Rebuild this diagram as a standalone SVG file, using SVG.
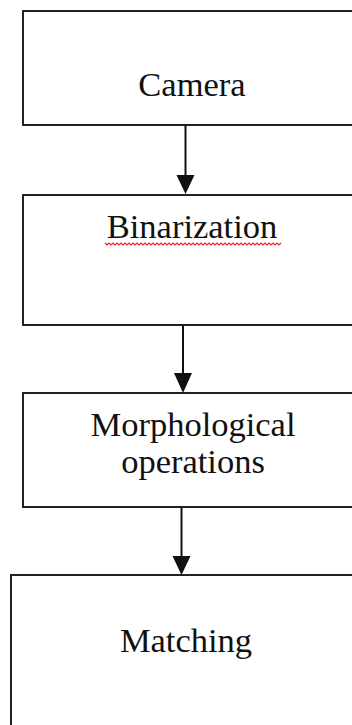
<svg xmlns="http://www.w3.org/2000/svg" width="352" height="725" viewBox="0 0 352 725">
<defs>
<style>
.box{fill:#fff;stroke:#222;stroke-width:2}
.lbl{font-family:"Liberation Serif","Times New Roman",serif;font-size:34.5px;fill:#111;text-anchor:middle}
.conn{stroke:#111;stroke-width:2;fill:none}
.head{fill:#111}
</style>
</defs>
<rect width="352" height="725" fill="#fff"/>
<g id="camera">
<rect class="box" x="23" y="11" width="340" height="114"/>
<text class="lbl" x="192" y="96">Camera</text>
</g>
<g id="binarization">
<rect class="box" x="23" y="195" width="340" height="130"/>
<text class="lbl" x="192" y="238">Binarization</text>
<polyline fill="none" stroke="#e22" stroke-width="1.2" points="105,243 107,245 109,243 111,245 113,243 115,245 117,243 119,245 121,243 123,245 125,243 127,245 129,243 131,245 133,243 135,245 137,243 139,245 141,243 143,245 145,243 147,245 149,243 151,245 153,243 155,245 157,243 159,245 161,243 163,245 165,243 167,245 169,243 171,245 173,243 175,245 177,243 179,245 181,243 183,245 185,243 187,245 189,243 191,245 193,243 195,245 197,243 199,245 201,243 203,245 205,243 207,245 209,243 211,245 213,243 215,245 217,243 219,245 221,243 223,245 225,243 227,245 229,243 231,245 233,243 235,245 237,243 239,245 241,243 243,245 245,243 247,245 249,243 251,245 253,243 255,245 257,243 259,245 261,243 263,245 265,243 267,245 269,243 271,245 273,243 275,245 277,243 279,245 281,243"/>
</g>
<g id="morphological">
<rect class="box" x="23" y="393" width="340" height="114"/>
<text class="lbl" x="193" y="436">Morphological</text>
<text class="lbl" x="193" y="473">operations</text>
</g>
<g id="matching">
<rect class="box" x="11" y="575" width="360" height="170"/>
<text class="lbl" x="186" y="652">Matching</text>
</g>
<g id="connectors">
<line class="conn" x1="185.5" y1="125" x2="185.5" y2="177"/>
<polygon class="head" points="176.5,175 194.5,175 185.5,194"/>
<line class="conn" x1="183" y1="325" x2="183" y2="375"/>
<polygon class="head" points="174,373 192,373 183,393"/>
<line class="conn" x1="181.5" y1="507" x2="181.5" y2="558"/>
<polygon class="head" points="172.5,556 190.5,556 181.5,575"/>
</g>
</svg>
